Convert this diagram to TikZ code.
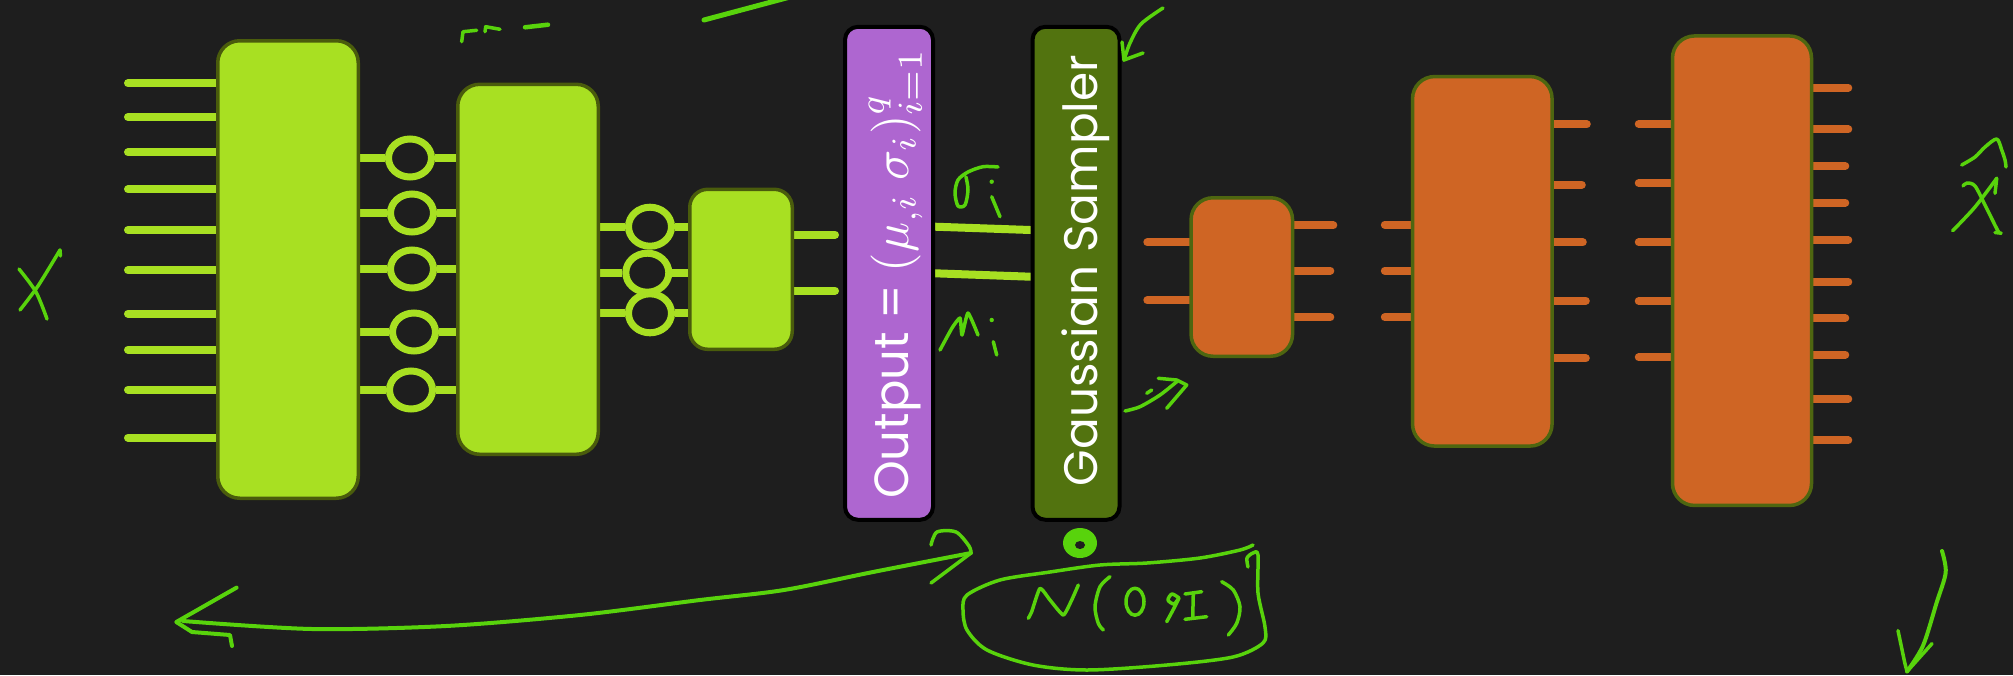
\documentclass[tikz,border=0pt]{standalone}
\usepackage{graphicx}
\usepackage[no-math]{fontspec}
\setmainfont{Poppins}
\usetikzlibrary{shapes.geometric}
\definecolor{bg}{HTML}{1E1E1E}
\definecolor{lime}{HTML}{A8E022}
\definecolor{limeedge}{HTML}{4A5C0C}
\definecolor{rust}{HTML}{CF6524}
\definecolor{rustedge}{HTML}{4E6610}
\definecolor{violet}{HTML}{AE66D0}
\definecolor{olive}{HTML}{52730F}
\definecolor{ink}{HTML}{58D30C}
\pgfdeclarelayer{canvas}
\pgfdeclarelayer{back}
\pgfsetlayers{canvas,back,main}
\newcommand{\bigmath}[1]{\scalebox{5}{\fontsize{10}{12}\selectfont$#1$}}
\begin{document}
\begin{tikzpicture}[x=1pt,y=-1pt,
  enc/.style={draw=limeedge, fill=lime, line width=3.5, rounded corners=22, inner sep=0},
  dec/.style={draw=rustedge, fill=rust, line width=3.5, rounded corners=22, inner sep=0},
  tall/.style={draw=black, line width=4, rounded corners=13, inner sep=0},
  ring/.style={ellipse, draw=lime, line width=7, inner sep=0},
  wire/.style={draw=lime, line width=8, line cap=round},
  link/.style={draw=lime, line width=8, line cap=butt},
  rwire/.style={draw=rust, line width=8, line cap=round},
  label/.style={rotate=90, anchor=base, text=white, inner sep=0},
  hand/.style={draw=ink, line width=3.5, line cap=round, line join=round},
]
\begin{pgfonlayer}{canvas}
\fill[bg] (0,0) rectangle (2013,675);
\end{pgfonlayer}
\useasboundingbox (0,0) rectangle (2013,675);
\clip (0,0) rectangle (2013,675);

% ---------- encoder ----------
\node[enc, minimum width=140.5, minimum height=457.5] (e1) at (288,269.5) {};
\node[enc, minimum width=140.5, minimum height=370] (e2) at (528,269.3) {};
\node[enc, rounded corners=18, minimum width=102.5, minimum height=160] (e3) at (741,269.3) {};

\foreach \n/\x/\y in {1/410/158, 2/412/213, 3/412/269, 4/414/332, 5/411/390}
  \node[ring, minimum width=43, minimum height=38] (h\n) at (\x,\y) {};
\foreach \n/\x/\y in {1/650/226.7, 2/647.3/272.7, 3/650/313.3}
  \node[ring, minimum width=43, minimum height=39] (k\n) at (\x,\y) {};

% ---------- latent ----------
\node[tall, fill=violet, minimum width=88, minimum height=493] (mu) at (889,273.3) {};
\node[tall, fill=olive, minimum width=87, minimum height=493] (gs) at (1076,273.3) {};
\node[label, font=\fontsize{48}{58}\selectfont] (mutext) at (908,273.5)
  {Output = \bigmath{(\mu_{,i}\;\sigma_i)^{q}_{i=1}}};
\node[label, font=\fontsize{47}{56}\selectfont] (gstext) at (1097,270.5)
  {Gaussian Sampler};

% ---------- decoder ----------
\node[dec, minimum width=101.5, minimum height=158.5] (d1) at (1241.8,277) {};
\node[dec, minimum width=139.5, minimum height=369.5] (d2) at (1482.3,261.3) {};
\node[dec, minimum width=139, minimum height=469.5] (d3) at (1742,270.7) {};

% ---------- wires (under the blocks) ----------
\begin{pgfonlayer}{back}
\foreach \y in {83.3,117,152.3,189.3,230,270.3,313.7,349.7,389.7,437.7}
  \draw[wire] (e1.west |- 0,\y) -- ++(-88,0);
\foreach \n in {1,...,5} {
  \draw[link] (e1.east |- h\n) -- (h\n.west);
  \draw[link] (h\n.east) -- (e2.west |- h\n);
}
\foreach \n in {1,2,3} {
  \draw[link] (e2.east |- k\n) -- (k\n.west);
  \draw[link] (k\n.east) -- (e3.west |- k\n);
}
\foreach \y in {234.7,290.7}
  \draw[wire] (e3.east |- 0,\y) -- ++(41,0);
\draw[wire] (mu.east |- 0,226.7) -- (gs.west |- 0,230);
\draw[wire] (mu.east |- 0,273.3) -- (gs.west |- 0,276.7);

\foreach \y in {242.3,300.3}
  \draw[rwire] (d1.west |- 0,\y) -- ++(-42,0);
\foreach \y/\l in {225.3/39,270.7/36,317.3/36}
  \draw[rwire] (d1.east |- 0,\y) -- ++(\l,0);
\foreach \y in {224.7,270.7,317.3}
  \draw[rwire] (d2.west |- 0,\y) -- ++(-26,0);
\foreach \y/\l in {124.3/33,184.7/28,242.3/29,300.7/32,358.3/32}
  \draw[rwire] (d2.east |- 0,\y) -- ++(\l,0);
\foreach \y in {124,183,242.3,301,357.3}
  \draw[rwire] (d3.west |- 0,\y) -- ++(-32,0);
\foreach \y/\l in {87.7/35,129.3/35,166/32,202.7/32,240/35,281.7/35,318/32,354.7/32,398.7/35,440.3/35}
  \draw[rwire] (d3.east |- 0,\y) -- ++(\l,0);
\end{pgfonlayer}

% ---------- pen annotations ----------
% X
\draw[hand] plot[smooth] coordinates {(20,310) (38,286) (60,250)};
\draw[hand] (60,250) -- (60.5,256);
\draw[hand] plot[smooth] coordinates {(19,269) (36,292) (47,319)};
% marks at the top
\draw[hand] (461.7,41.7) -- (463,31.7) -- (476.7,30.3);
\draw[hand] (485,31.7) -- (485.7,26.7) -- (500,29.3);
\draw[hand, line width=4.5] (525,27.3) -- (548,24.7);
\draw[hand, line width=5] (704,20) -- (790,-3);
% arrow onto the sampler
\draw[hand] plot[smooth] coordinates {(1163,8) (1141,24) (1130,43) (1124,60)};
\draw[hand] (1122,42) -- (1124,60) -- (1143,53);
% sigma_i
\draw[hand] plot[smooth] coordinates {(998,167) (983,166.7) (968,172) (958,180) (955,193) (958,206) (965,205) (968,190) (966,177)};
\fill[ink] (991.7,181.7) circle (2.2);
\draw[hand] (991.7,196.7) -- (1000,216.7);
% mu_i
\draw[hand] plot[smooth, tension=0.3] coordinates {(940,350) (952,328) (960,318) (962,335) (968,313) (978,335)};
\fill[ink] (991.7,320) circle (2.2);
\draw[hand] (993.3,341.7) -- (996.7,355);
% arrow towards the decoder
\draw[hand] plot[smooth] coordinates {(1125,411) (1140,406.7) (1160,395) (1176.7,381.7)};
\draw[hand] (1158.3,378.3) -- (1176.7,380) -- (1186.7,385) -- (1166.7,408.3);
\draw[hand] (1146.7,393.3) -- (1151.7,390);
% noise dot
\fill[ink] (1080,543) ellipse (17 and 15);
\fill[bg] (1080,545) ellipse (5 and 4);
% long arrow back to the input
\draw[hand, line width=4] plot[smooth] coordinates {(183,621) (312,629) (446,626) (580,615) (700,600) (784,590) (873,572) (971,553)};
\draw[hand, line width=4] (236.6,587.6) -- (176.3,622) -- (192,632) -- (230,635) -- (232,646);
\draw[hand] plot[smooth] coordinates {(931,545) (937,532) (956,532) (969,546) (971,553)};
\draw[hand] (971,553) -- (931,583);
% N(0, I) with a loop round it
\draw[hand] plot[smooth] coordinates {(1253,545) (1240,550) (1200,558) (1147,563) (1100,565) (1050,572) (1000,580) (967,595) (963,610) (967,630) (987,650) (1033,665) (1087,670) (1167,665) (1233,657) (1263,643) (1265,627) (1258,593) (1258,555) (1253,553) (1247,558) (1248,567)};
\draw[hand] plot[smooth, tension=0.3] coordinates {(1028.3,618.3) (1031.7,611.7) (1040,588.3) (1050,600) (1063.3,615) (1071.7,600) (1078.3,585)};
\draw[hand] plot[smooth] coordinates {(1110,576.7) (1100,586.7) (1095,606.7) (1098.3,623.3) (1103.3,630)};
\draw[hand] (1135,601.7) ellipse (9 and 13.5);
\draw[hand] plot[smooth] coordinates {(1179,598) (1172,594) (1168,600) (1174,604) (1179,598) (1173,610) (1166.7,621.7)};
\draw[hand] (1185,594) -- (1201.7,591.7);
\draw[hand] (1193.3,593.3) -- (1192.7,618.3);
\draw[hand] (1185,619.3) -- (1206.7,616.7);
\draw[hand] plot[smooth] coordinates {(1221.7,581.7) (1233.3,590) (1240,606.7) (1236.7,623.3) (1228.3,635)};
% x hat
\draw[hand] plot[smooth] coordinates {(1961.7,165) (1975,157) (1985,147) (1996.7,139) (2001.7,150) (2005,160) (2006,167)};
\draw[hand] plot[smooth] coordinates {(1952.7,230.7) (1975,207) (1996.7,178.3)};
\draw[hand] (1995,193.3) -- (1996.7,178.3);
\draw[hand] plot[smooth] coordinates {(1963,186) (1967,183) (1975,186) (1985,205) (1998,231) (2001,233) (1995,232.5)};
% check mark
\draw[hand, line width=4] plot[smooth] coordinates {(1942,551) (1945.7,572.5) (1936.6,602.7) (1923,645.7) (1907,671.5)};
\draw[hand] (1898,630.6) -- (1904.8,663) -- (1907,671.5) -- (1932,643.6);
\end{tikzpicture}
\end{document}
